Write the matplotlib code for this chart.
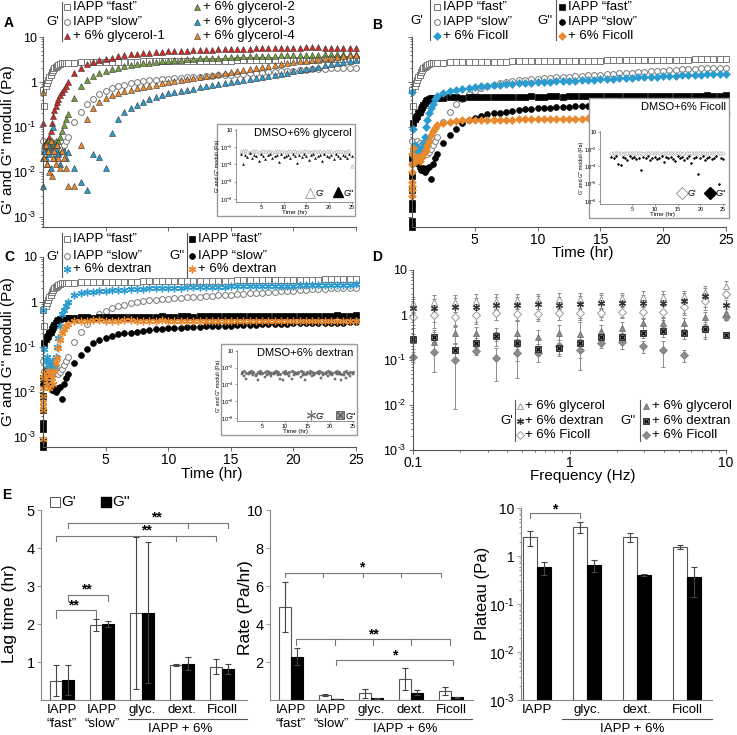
import numpy as np
import matplotlib
matplotlib.use('Agg')
import matplotlib.pyplot as plt
from matplotlib.lines import Line2D
from matplotlib.patches import Rectangle
from matplotlib.ticker import LogLocator, NullFormatter, NullLocator, FixedLocator, FixedFormatter

plt.rcParams['font.family'] = ['Liberation Sans', 'DejaVu Sans']
plt.rcParams['mathtext.fontset'] = 'custom'
plt.rcParams['mathtext.rm'] = 'Liberation Sans'
plt.rcParams['mathtext.it'] = 'Liberation Sans:italic'
plt.rcParams['mathtext.bf'] = 'Liberation Sans:bold'

# ---------------- time course data (Pa) ----------------
hours = [0.03, 0.1, 0.2, 0.3, 0.4, 0.5, 0.6, 0.7, 0.8, 0.9, 1.0, 1.1, 1.2, 1.35, 1.5, 1.65, 1.8, 2.0,
         2.5, 3.0, 3.5, 4.0, 4.5, 5.0, 5.5, 6.0, 6.5, 7.0, 7.5, 8.0, 8.5, 9.0, 9.5, 10.0,
         10.5, 11.0, 11.5, 12.0, 12.5, 13.0, 13.5, 14.0, 14.5, 15.0, 15.5, 16.0, 16.5, 17.0,
         17.5, 18.0, 18.5, 19.0, 19.5, 20.0, 20.5, 21.0, 21.5, 22.0, 22.5, 23.0, 23.5, 24.0, 24.5, 25.0]

fast_g1 = [0.65, 0.3, 0.8, 0.95, 1.1, 1.3, 1.45, 1.65, 1.85, 2.0, 2.15, 2.3, 2.4, 2.5, 2.58, 2.62, 2.65, 2.68,
           2.7, 2.72, 2.74, 2.76, 2.78, 2.8, 2.81, 2.82, 2.83, 2.84, 2.85, 2.86, 2.87, 2.88, 2.89, 2.9,
           2.91, 2.92, 2.93, 2.94, 2.95, 2.96, 2.97, 2.98, 2.99, 3.0, 3.01, 3.02, 3.03, 3.04, 3.05, 3.06,
           3.07, 3.08, 3.09, 3.1, 3.11, 3.12, 3.13, 3.15, 3.17, 3.19, 3.21, 3.23, 3.25, 3.3]
slow_g1 = [0.05, 0.03, 0.04, 0.035, 0.05, 0.04, 0.045, 0.035, 0.04, 0.03, 0.035, 0.03, 0.025, 0.028, 0.032, 0.04, 0.05, 0.06,
           0.13, 0.22, 0.32, 0.42, 0.55, 0.64, 0.72, 0.8, 0.88, 0.95, 1.0, 1.05, 1.08, 1.12, 1.15, 1.18,
           1.2, 1.23, 1.26, 1.3, 1.32, 1.35, 1.38, 1.4, 1.43, 1.46, 1.5, 1.53, 1.56, 1.6, 1.62, 1.66,
           1.7, 1.73, 1.76, 1.8, 1.83, 1.87, 1.9, 1.93, 1.96, 2.0, 2.02, 2.05, 2.08, 2.1]
gly1 = [0.12, 0.04, 0.03, 0.05, 0.04, 0.06, 0.08, 0.12, 0.18, 0.24, 0.3, 0.36, 0.42, 0.52, 0.6, 0.7, 0.8, 1.0,
        1.6, 2.1, 2.5, 2.8, 3.1, 3.3, 3.5, 3.7, 3.9, 4.1, 4.2, 4.4, 4.5, 4.6, 4.7, 4.8,
        4.9, 5.0, 5.0, 5.1, 5.1, 5.2, 5.2, 5.3, 5.3, 5.4, 5.4, 5.5, 5.5, 5.6, 5.6, 5.6,
        5.7, 5.7, 5.8, 5.8, 5.8, 5.9, 5.9, 5.9, 5.8, 5.8, 5.7, 5.7, 5.6, 5.6]
gly2 = [0.02, 0.03, 0.04, 0.03, 0.05, 0.04, 0.03, 0.05, 0.04, 0.045, 0.05, 0.04, 0.05, 0.06, 0.08, 0.11, 0.15, 0.19,
        0.45, 0.8, 1.1, 1.35, 1.6, 1.8, 1.95, 2.1, 2.25, 2.4, 2.5, 2.6, 2.7, 2.8, 2.9, 3.0,
        3.1, 3.15, 3.2, 3.3, 3.35, 3.4, 3.45, 3.5, 3.55, 3.6, 3.65, 3.7, 3.72, 3.75, 3.8, 3.83,
        3.86, 3.9, 3.93, 3.96, 4.0, 4.02, 4.05, 4.08, 4.1, 4.12, 4.15, 4.18, 4.2, 4.25]
gly3 = [0.005, 0.03, 0.02, 0.015, 0.04, 0.025, 0.012, 0.03, 0.1, 0.02, 0.04, 0.03, 0.025, 0.015, 0.03, 0.03, 0.02, 0.028,
        0.012, 0.006, 0.004, 0.025, 0.022, 0.012, 0.075, 0.15, 0.22, 0.27, 0.31, 0.36, 0.42, 0.47, 0.52, 0.56,
        0.6, 0.63, 0.67, 0.71, 0.76, 0.8, 0.85, 0.9, 0.95, 1.0, 1.06, 1.12, 1.18, 1.24, 1.3, 1.37,
        1.45, 1.53, 1.62, 1.72, 1.83, 1.95, 2.07, 2.2, 2.35, 2.5, 2.65, 2.8, 2.95, 3.1]
gly4 = [0.6, 0.02, 0.04, 0.015, 0.03, 0.01, 0.05, 0.008, 0.02, 0.03, 0.015, 0.04, 0.02, 0.012, 0.03, 0.02, 0.012, 0.005,
        0.005, 0.04, 0.15, 0.27, 0.36, 0.45, 0.52, 0.58, 0.63, 0.68, 0.72, 0.78, 0.83, 0.88, 0.93, 0.98,
        1.03, 1.08, 1.14, 1.2, 1.27, 1.34, 1.42, 1.5, 1.58, 1.66, 1.75, 1.85, 1.95, 2.05, 2.15, 2.28,
        2.4, 2.5, 2.62, 2.75, 2.88, 3.0, 3.1, 3.25, 3.4, 3.5, 3.65, 3.8, 3.9, 4.0]
fast_g2 = [0.002, 0.12, 0.15, 0.17, 0.18, 0.2, 0.22, 0.25, 0.28, 0.31, 0.34, 0.37, 0.39, 0.41, 0.43, 0.44, 0.45, 0.45,
           0.45, 0.46, 0.46, 0.45, 0.46, 0.46, 0.47, 0.46, 0.46, 0.47, 0.47, 0.46, 0.47, 0.47, 0.48, 0.47,
           0.47, 0.48, 0.48, 0.47, 0.48, 0.48, 0.49, 0.48, 0.48, 0.49, 0.49, 0.48, 0.49, 0.49, 0.5, 0.49,
           0.49, 0.5, 0.5, 0.49, 0.5, 0.5, 0.5, 0.49, 0.5, 0.5, 0.51, 0.5, 0.5, 0.51]
slow_g2 = [0.015, 0.02, 0.03, 0.025, 0.02, 0.015, 0.012, 0.011, 0.011, 0.012, 0.01, 0.011, 0.012, 0.013, 0.007, 0.015, 0.02, 0.025,
           0.045, 0.065, 0.09, 0.12, 0.14, 0.16, 0.175, 0.19, 0.2, 0.21, 0.22, 0.23, 0.24, 0.25, 0.255, 0.26,
           0.265, 0.27, 0.275, 0.28, 0.285, 0.29, 0.29, 0.295, 0.3, 0.3, 0.305, 0.31, 0.31, 0.315, 0.32, 0.32,
           0.325, 0.33, 0.33, 0.335, 0.335, 0.34, 0.34, 0.345, 0.345, 0.35, 0.35, 0.35, 0.355, 0.36]
fic_g1 = [0.6, 0.09, 0.04, 0.035, 0.03, 0.025, 0.03, 0.028, 0.035, 0.045, 0.06, 0.1, 0.14, 0.2, 0.26, 0.33, 0.42, 0.5,
          0.58, 0.62, 0.66, 0.7, 0.74, 0.78, 0.8, 0.83, 0.86, 0.88, 0.9, 0.92, 0.94, 0.95, 0.97, 0.98,
          1.0, 1.01, 1.03, 1.04, 1.06, 1.07, 1.09, 1.1, 1.12, 1.14, 1.16, 1.18, 1.2, 1.22, 1.24, 1.26,
          1.28, 1.3, 1.32, 1.34, 1.36, 1.38, 1.4, 1.42, 1.44, 1.46, 1.48, 1.5, 1.51, 1.52]
fic_g2 = [0.004, 0.035, 0.02, 0.018, 0.022, 0.02, 0.018, 0.02, 0.022, 0.025, 0.028, 0.032, 0.04, 0.05, 0.065, 0.08, 0.095, 0.11,
          0.12, 0.13, 0.135, 0.14, 0.14, 0.14, 0.142, 0.143, 0.144, 0.145, 0.145, 0.146, 0.147, 0.148, 0.148, 0.149,
          0.15, 0.15, 0.151, 0.152, 0.152, 0.153, 0.154, 0.155, 0.155, 0.156, 0.157, 0.158, 0.16, 0.161, 0.163, 0.165,
          0.167, 0.169, 0.17, 0.172, 0.174, 0.176, 0.178, 0.18, 0.183, 0.186, 0.19, 0.193, 0.197, 0.2]
dex_g1 = [0.65, 0.09, 0.05, 0.06, 0.035, 0.04, 0.03, 0.05, 0.04, 0.035, 0.06, 0.1, 0.16, 0.3, 0.55, 0.65, 0.8, 1.0,
          1.4, 1.55, 1.65, 1.7, 1.75, 1.8, 1.83, 1.86, 1.89, 1.92, 1.95, 1.97, 2.0, 2.02, 2.04, 2.06,
          2.08, 2.1, 2.11, 2.13, 2.14, 2.16, 2.17, 2.19, 2.2, 2.22, 2.23, 2.24, 2.25, 2.26, 2.27, 2.28,
          2.29, 2.3, 2.31, 2.32, 2.33, 2.34, 2.35, 2.36, 2.37, 2.38, 2.4, 2.41, 2.43, 2.45]
dex_g2 = [0.006, 0.025, 0.02, 0.015, 0.03, 0.012, 0.025, 0.02, 0.015, 0.03, 0.045, 0.058, 0.095, 0.145, 0.2, 0.25, 0.29, 0.33,
          0.37, 0.38, 0.385, 0.39, 0.39, 0.385, 0.38, 0.385, 0.39, 0.39, 0.385, 0.38, 0.38, 0.385, 0.39, 0.385,
          0.38, 0.38, 0.385, 0.38, 0.375, 0.38, 0.385, 0.38, 0.38, 0.375, 0.38, 0.38, 0.385, 0.38, 0.375, 0.38,
          0.38, 0.375, 0.38, 0.38, 0.375, 0.37, 0.375, 0.38, 0.375, 0.37, 0.375, 0.37, 0.37, 0.375]

# extra readings stacked at the very start of the run
start_t = [0.0, 0.0, 0.0, 0.0, 0.02, 0.02]
fast_g2_start = [0.0006, 0.0008, 0.0015, 0.004, 0.008, 0.02]
fic_g2_start = [0.003, 0.005, 0.006, 0.01, 0.015, 0.025]
dex_g2_start = [0.0009, 0.004, 0.005, 0.008, 0.012, 0.02]

# ---------------- inset (solvent only) data, log10(Pa) ----------------
inset_t = [0.5, 1.0, 1.5, 2.0, 2.5, 3.0, 3.5, 4.0, 4.5, 5.0, 5.5, 6.0, 6.5, 7.0, 7.5, 8.0, 8.5, 9.0, 9.5, 10.0,
           10.5, 11.0, 11.5, 12.0, 12.5, 13.0, 13.5, 14.0, 14.5, 15.0, 15.5, 16.0, 16.5, 17.0, 17.5, 18.0,
           18.5, 19.0, 19.5, 20.0, 20.5, 21.0, 21.5, 22.0, 22.5, 23.0, 23.5, 24.0, 24.5, 25.0]
gly_solv_g1 = [-2.4, -2.5, -2.3, -2.5, -2.6, -2.4, -2.5, -2.4, -2.6, -2.5, -2.4, -2.5, -2.5, -2.4, -2.6, -2.5, -2.4,
               -2.5, -2.4, -2.5, -2.6, -2.4, -2.5, -2.5, -2.4, -2.6, -2.5, -2.4, -2.5, -2.5, -2.4, -2.6, -2.5,
               -2.4, -2.5, -2.4, -2.6, -2.5, -2.5, -2.4, -2.5, -2.6, -2.4, -2.5, -2.5, -2.4, -2.6, -2.5, -2.4, -4.2]
gly_solv_g2 = [-2.8, -3.9, -2.9, -3.1, -2.7, -3.3, -2.9, -3.0, -3.6, -2.8, -3.0, -3.4, -2.9, -2.8, -3.2, -3.0, -2.9,
               -3.7, -2.8, -3.1, -3.0, -2.9, -3.3, -2.8, -3.0, -3.8, -2.9, -3.1, -2.8, -3.0, -3.5, -2.9, -2.8,
               -3.2, -3.0, -2.9, -3.6, -2.8, -3.0, -3.1, -2.9, -3.4, -2.8, -3.0, -3.2, -2.9, -3.0, -3.3, -2.8, -3.0]
fic_solv_g1 = [-2.5, -2.4, -2.5, -2.5, -2.4, -2.6, -2.5, -2.4, -2.5, -2.4, -2.5, -2.5, -2.4, -2.5, -2.6, -2.4, -2.5,
               -2.5, -2.4, -2.5, -2.4, -2.5, -2.6, -2.5, -2.4, -2.5, -2.5, -2.4, -2.5, -2.4, -2.5, -2.6, -2.5,
               -2.4, -2.5, -2.5, -2.4, -2.5, -2.4, -2.5, -2.5, -2.4, -2.6, -2.5, -2.4, -2.5, -2.5, -2.4, -2.5, -2.4]
fic_solv_g2 = [-2.9, -3.0, -2.8, -3.7, -3.8, -2.9, -3.0, -3.2, -2.8, -3.0, -2.9, -3.1, -3.0, -4.4, -2.9, -3.0, -2.8,
               -3.3, -3.0, -2.9, -3.1, -3.0, -2.8, -3.5, -2.9, -3.0, -2.9, -3.1, -3.4, -2.8, -3.0, -2.9, -3.2,
               -3.0, -2.8, -3.6, -3.0, -2.9, -4.9, -3.0, -2.8, -3.3, -3.0, -2.9, -3.1, -3.0, -2.8, -6.0, -3.0, -3.1]
dex_solv_g1 = [-2.5, -2.4, -2.6, -2.5, -2.4, -2.5, -2.7, -2.5, -2.4, -2.6, -2.5, -2.4, -2.5, -2.6, -2.5, -2.4, -2.5,
               -2.7, -2.5, -2.4, -2.6, -2.5, -2.4, -2.5, -2.6, -2.5, -2.4, -2.5, -2.7, -2.5, -2.4, -2.5, -2.6,
               -2.5, -2.4, -2.5, -2.6, -2.5, -2.4, -2.5, -2.6, -2.5, -2.4, -2.5, -2.7, -2.5, -2.4, -2.6, -2.5, -2.5]
dex_solv_g2 = [-2.7, -3.0, -3.4, -2.8, -2.6, -2.9, -3.0, -3.5, -2.7, -2.8, -3.1, -2.9, -2.7, -3.0, -2.8, -2.6, -2.9,
               -3.3, -3.5, -2.8, -2.7, -3.0, -3.4, -2.9, -2.7, -2.8, -3.1, -2.9, -3.5, -2.7, -2.8, -3.0, -2.9,
               -2.6, -2.8, -3.2, -2.9, -2.7, -3.0, -2.8, -2.9, -3.3, -2.7, -2.8, -3.5, -2.9, -3.2, -2.7, -3.0, -2.8]

# ---------------- frequency sweep data (panel D) ----------------
freq = [0.1, 0.136, 0.185, 0.251, 0.341, 0.464, 0.631, 0.858, 1.17, 1.58, 2.15, 2.93, 3.98, 5.41, 7.36, 10.0]
fs_gly_g1 = [1.82, 1.98, 1.98, 2.08, 2.08, 2.15, 2.15, 2.23, 2.23, 2.23, 2.35, 2.47, 2.55, 2.6, 3.3, 4.3]
fs_dex_g1 = [1.41, 1.41, 1.48, 1.53, 1.67, 1.67, 1.73, 1.67, 1.75, 1.82, 1.82, 1.82, 1.88, 2.08, 2.6, 1.67]
fs_fic_g1 = [0.89, 1.0, 0.89, 1.0, 1.09, 1.03, 1.03, 1.09, 1.09, 1.09, 1.19, 1.19, 1.19, 1.48, 2.08, 2.9]
fs_gly_g1_err = [0.7, 0.8, 0.8, 0.8, 0.8, 0.8, 0.8, 0.8, 0.8, 0.8, 0.8, 0.9, 0.9, 0.9, 1.2, 1.5]
fs_dex_g1_err = [0.9, 0.9, 0.9, 0.9, 0.9, 0.9, 0.9, 0.9, 0.9, 0.9, 0.9, 1.0, 1.0, 1.0, 1.3, 0.5]
fs_fic_g1_err = [0.3, 0.3, 0.3, 0.3, 0.3, 0.3, 0.3, 0.3, 0.3, 0.3, 0.35, 0.35, 0.4, 0.5, 0.6, 0.5]
fs_gly_g2 = [0.28, 0.255, 0.39, 0.39, 0.36, 0.39, 0.32, 0.4, 0.38, 0.45, 0.51, 0.65, 0.65, 0.66, 0.89, 1.09]
fs_dex_g2 = [0.288, 0.33, 0.167, 0.243, 0.34, 0.234, 0.18, 0.188, 0.234, 0.32, 0.32, 0.39, 0.43, 0.39, 0.48, 0.36]
fs_fic_g2 = [0.119, 0.153, 0.1, 0.16, 0.109, 0.146, 0.14, 0.2, 0.17, 0.243, 0.255, 0.2, 0.167, 0.129, 0.5, 0.89]
fs_gly_g2_err = [0.1, 0.2, 0.15, 0.15, 0.15, 0.35, 0.15, 0.2, 0.32, 0.15, 0.2, 0.2, 0.2, 0.2, 0.3, 0.3]
fs_dex_g2_err = [0.05, 0.08, 0.06, 0.06, 0.08, 0.06, 0.05, 0.05, 0.06, 0.06, 0.08, 0.08, 0.1, 0.1, 0.15, 0.05]
fs_fic_g2_err = [0.03, 0.1, 0.092, 0.03, 0.074, 0.05, 0.05, 0.08, 0.06, 0.06, 0.08, 0.06, 0.097, 0.04, 0.2, 0.1]

# ---------------- bar data (panel E) ----------------
lag_g1 = [0.51, 1.97, 2.3, 0.92, 0.88]
lag_g1_err = [0.4, 0.15, 2.0, 0.02, 0.19]
lag_g2 = [0.52, 2.0, 2.3, 0.96, 0.82]
lag_g2_err = [0.39, 0.09, 1.86, 0.16, 0.14]
rate_g1 = [4.9, 0.26, 0.35, 1.09, 0.47]
rate_g1_err = [1.3, 0.03, 0.25, 0.58, 0.2]
rate_g2 = [2.28, 0.05, 0.08, 0.39, 0.14]
rate_g2_err = [0.45, 0.01, 0.03, 0.15, 0.02]
plat_g1 = [2.45, 4.0, 2.45, 1.56]
plat_g1_err = [0.8, 1.0, 0.5, 0.15]
plat_g2 = [0.58, 0.65, 0.4, 0.36]
plat_g2_err = [0.18, 0.18, 0.02, 0.22]
cat5 = ['IAPP\n\u201cfast\u201d', 'IAPP\n\u201cslow\u201d', 'glyc.', 'dext.', 'Ficoll']
cat4 = ['IAPP', 'glyc.', 'dext.', 'Ficoll']

RED, GREEN, BLUE, ORANGE = '#cf2a27', '#74a03c', '#2b9ccf', '#e8892e'
DEC_LABELS = ['10$^{\u20103}$', '10$^{\u20102}$', '10$^{\u20101}$', '1', '10']

W, H = 737, 735
fig = plt.figure(figsize=(W / 100, H / 100), dpi=100)


def box(l, tp, r, b):
    return [l / W, 1 - b / H, (r - l) / W, (b - tp) / H]


def ftext(x, y, s, **kw):
    kw.setdefault('va', 'center')
    fig.text(x / W, 1 - y / H, s, **kw)


def fmark(x, y, **kw):
    fig.add_artist(Line2D([x / W], [1 - y / H], transform=fig.transFigure, ls='none', **kw))


def fline(xs, ys, **kw):
    fig.add_artist(Line2D([x / W for x in xs], [1 - y / H for y in ys], transform=fig.transFigure, **kw))


def clean(ax, color='#555555', size=9):
    for s in ['top', 'right']:
        ax.spines[s].set_visible(False)
    for s in ['left', 'bottom']:
        ax.spines[s].set_color(color)
        ax.spines[s].set_linewidth(0.8)
    ax.tick_params(which='both', color=color, width=0.6, direction='out')
    ax.tick_params(which='major', length=3, labelsize=size, pad=1.5)
    ax.tick_params(which='minor', length=1.6)


def log_y(ax, lo, hi, labels=True):
    ax.set_yscale('log')
    ax.set_ylim(lo, hi)
    ax.yaxis.set_major_locator(FixedLocator([1e-3, 1e-2, 1e-1, 1, 10]))
    if labels:
        ax.yaxis.set_major_formatter(FixedFormatter(DEC_LABELS))
    else:
        ax.yaxis.set_major_formatter(NullFormatter())
    ax.yaxis.set_minor_locator(LogLocator(base=10, subs=[2, 3, 4, 5, 6, 7, 8, 9], numticks=20))
    ax.yaxis.set_minor_formatter(NullFormatter())


def time_axes(rect, xlab, ylab):
    ax = fig.add_axes(box(*rect))
    clean(ax)
    ax.tick_params(axis='x', labelsize=10)
    ax.set_xlim(0, 25)
    ax.set_xticks([5, 10, 15, 20, 25])
    if not xlab:
        ax.set_xticklabels([])
    log_y(ax, 6e-4, 10, ylab)
    return ax


def pts(ax, x, y, **kw):
    ax.plot(x, y, ls='none', clip_on=False, **kw)


sq_open = dict(marker='s', mfc='white', mec='#777777', ms=4.0, mew=0.7)
ci_open = dict(marker='o', mfc='white', mec='#777777', ms=4.2, mew=0.7)
sq_blk = dict(marker='s', mfc='black', mec='black', ms=4.0, mew=0.5)
ci_blk = dict(marker='o', mfc='black', mec='black', ms=4.2, mew=0.5)


def tri(c):
    return dict(marker='^', mfc=c, mec='#333333', mew=0.4, ms=5.0)


def dia(c):
    return dict(marker='D', mfc=c, mec=c, mew=0.4, ms=3.8)


def ast(c):
    return dict(marker=(6, 2, 0), mfc=c, mec=c, mew=1.0, ms=5.5)


def inset(ax_rect, frame, xlim, g1, g2, s1, s2, title, title_xy):
    l, tp, r, b = frame
    fig.add_artist(Rectangle((l / W, 1 - b / H), (r - l) / W, (b - tp) / H, transform=fig.transFigure,
                             facecolor='white', edgecolor='#9a9a9a', lw=1.0, zorder=3))
    ax = fig.add_axes(box(*ax_rect), zorder=5)
    ax.patch.set_alpha(0)
    for s in ['top', 'right']:
        ax.spines[s].set_visible(False)
    for s in ['left', 'bottom']:
        ax.spines[s].set_color('#666666')
        ax.spines[s].set_linewidth(0.5)
    ax.set_xlim(*xlim)
    ax.set_xticks([5, 10, 15, 20, 25])
    ax.set_yscale('log')
    ax.set_ylim(10 ** -8.35, 10 ** 0.1)
    ax.yaxis.set_major_locator(FixedLocator([1e-8, 1e-6, 1e-4, 1e-2, 1]))
    ax.yaxis.set_major_formatter(FixedFormatter(['10$^{-8}$', '10$^{-6}$', '10$^{-4}$', '10$^{-2}$', '10']))
    ax.yaxis.set_minor_locator(NullLocator())
    ax.tick_params(labelsize=4, length=1.5, width=0.4, pad=0.8, color='#666666')
    ax.set_xlabel('Time (hr)', fontsize=4.5, labelpad=0)
    ax.set_ylabel("G' and G'' moduli (Pa)", fontsize=3.8, labelpad=0.5)
    ax.plot(inset_t, 10 ** np.array(g1), ls='none', **s1)
    ax.plot(inset_t, 10 ** np.array(g2), ls='none', **s2)
    ftext(title_xy[0], title_xy[1], title, ha='right', fontsize=8, zorder=6)
    return ax


# ================= Panel A =================
axA = time_axes((43, 37, 356, 227), False, True)
pts(axA, hours, fast_g1, **sq_open)
pts(axA, hours, slow_g1, **ci_open)
pts(axA, hours, gly1, **tri(RED))
pts(axA, hours, gly2, **tri(GREEN))
pts(axA, hours, gly3, **tri(BLUE))
pts(axA, hours, gly4, **tri(ORANGE))
ftext(8, 140, "G' and G'' moduli (Pa)", rotation=90, ha='center', fontsize=11)
inset((236, 129, 353, 202), (217, 124, 355, 216), (-0.5, 25.3), gly_solv_g1, gly_solv_g2,
      dict(marker='^', mfc='white', mec='#aaaaaa', ms=2.4, mew=0.4),
      dict(marker='^', mfc='black', mec='black', ms=1.6, mew=0.2),
      'DMSO+6% glycerol', (352, 133))
fmark(310, 193, marker='^', mfc='white', mec='#999999', ms=7, mew=0.6, zorder=6)
ftext(315, 194, "G'", fontsize=6.5, zorder=6)
fmark(338, 192, marker='^', mfc='black', mec='black', ms=7, zorder=6)
ftext(343, 194, "G''", fontsize=6.5, zorder=6)

# legend A
ftext(53, 22, "G'", ha='center', fontsize=9.5)
fline([62, 62], [2, 41], color='#555555', lw=0.8)
rows = [7, 22, 36]
for y, st, lab in zip(rows, [sq_open, ci_open, tri(RED)], ['IAPP \u201cfast\u201d', 'IAPP \u201cslow\u201d', '+ 6% glycerol-1']):
    fmark(67, y, **st)
    ftext(73, y, lab, fontsize=9.5)
for y, c, lab in zip(rows, [GREEN, BLUE, ORANGE], ['+ 6% glycerol-2', '+ 6% glycerol-3', '+ 6% glycerol-4']):
    fmark(197, y, **tri(c))
    ftext(203, y, lab, fontsize=9.5)

# ================= Panel B =================
axB = time_axes((412, 37, 726, 227), True, False)
pts(axB, hours, fast_g1, **sq_open)
pts(axB, hours, slow_g1, **ci_open)
pts(axB, hours, fast_g2, **sq_blk)
pts(axB, start_t, fast_g2_start, **sq_blk)
pts(axB, hours, slow_g2, **ci_blk)
pts(axB, hours, fic_g1, **dia(BLUE))
pts(axB, hours, fic_g2, **dia(ORANGE))
pts(axB, start_t, fic_g2_start, **dia(ORANGE))
ftext(583, 253, 'Time (hr)', ha='center', fontsize=11)
inset((600, 131, 725, 204), (589, 98, 729, 218), (-2.0, 25.4), fic_solv_g1, fic_solv_g2,
      dict(marker='D', mfc='white', mec='#aaaaaa', ms=2.0, mew=0.4),
      dict(marker='D', mfc='black', mec='black', ms=1.4, mew=0.2),
      'DMSO+6% Ficoll', (726, 107))
fmark(682, 193, marker='D', mfc='white', mec='#888888', ms=6, mew=0.6, zorder=6)
ftext(687, 194, "G'", fontsize=6.5, zorder=6)
fmark(710, 193, marker='D', mfc='black', mec='black', ms=6, zorder=6)
ftext(715, 194, "G''", fontsize=6.5, zorder=6)

ftext(417, 21, "G'", ha='center', fontsize=9.5)
fline([430, 430], [0, 40], color='#555555', lw=0.8)
for y, st, lab in zip(rows, [sq_open, ci_open, dia(BLUE)], ['IAPP \u201cfast\u201d', 'IAPP \u201cslow\u201d', '+ 6% Ficoll']):
    fmark(437, y, **st)
    ftext(443, y, lab, fontsize=9.5)
ftext(545, 21, "G''", ha='center', fontsize=9.5)
fline([556, 556], [0, 40], color='#555555', lw=0.8)
for y, st, lab in zip(rows, [sq_blk, ci_blk, dia(ORANGE)], ['IAPP \u201cfast\u201d', 'IAPP \u201cslow\u201d', '+ 6% Ficoll']):
    fmark(562, y, **st)
    ftext(568, y, lab, fontsize=9.5)

# ================= Panel C =================
axC = time_axes((43, 257, 356, 447), True, True)
pts(axC, hours, fast_g1, **sq_open)
pts(axC, hours, slow_g1, **ci_open)
pts(axC, hours, fast_g2, **sq_blk)
pts(axC, start_t, fast_g2_start, **sq_blk)
pts(axC, hours, slow_g2, **ci_blk)
pts(axC, hours, dex_g1, **ast(BLUE))
pts(axC, hours, dex_g2, **ast(ORANGE))
pts(axC, start_t, dex_g2_start, **ast(ORANGE))
ftext(8, 352, "G' and G'' moduli (Pa)", rotation=90, ha='center', fontsize=11)
ftext(212, 474, 'Time (hr)', ha='center', fontsize=11)
inset((237, 350, 354, 421), (221, 344, 357, 435), (-0.6, 25.3), dex_solv_g1, dex_solv_g2,
      dict(marker=(6, 2, 0), mfc='#777777', mec='#777777', ms=2.4, mew=0.4),
      dict(marker='s', mfc='#888888', mec='#444444', ms=1.8, mew=0.3),
      'DMSO+6% dextran', (353, 353))
fmark(311, 415, marker=(6, 2, 0), mec='#777777', ms=7, mew=0.8, zorder=6)
ftext(316, 416, "G'", fontsize=6.5, zorder=6)
fmark(340, 415, marker='s', mfc='#999999', mec='#555555', ms=6, mew=0.6, zorder=6)
fmark(340, 415, marker='x', mec='#444444', ms=5, mew=0.6, zorder=7)
ftext(345, 416, "G''", fontsize=6.5, zorder=6)

rowsC = [239, 256, 269]
ftext(53, 257, "G'", ha='center', fontsize=9.5)
fline([62, 62], [233, 277], color='#555555', lw=0.8)
for y, st, lab in zip(rowsC, [sq_open, ci_open, ast(BLUE)], ['IAPP \u201cfast\u201d', 'IAPP \u201cslow\u201d', '+ 6% dextran']):
    fmark(67, y, **st)
    ftext(73, y, lab, fontsize=9.5)
ftext(177, 256, "G''", ha='center', fontsize=9.5)
fline([187, 187], [233, 277], color='#555555', lw=0.8)
for y, st, lab in zip(rowsC, [sq_blk, ci_blk, ast(ORANGE)], ['IAPP \u201cfast\u201d', 'IAPP \u201cslow\u201d', '+ 6% dextran']):
    fmark(192, y, **st)
    ftext(198, y, lab, fontsize=9.5)

# ================= Panel D =================
axD = fig.add_axes(box(413, 270, 726, 450))
clean(axD)
axD.tick_params(axis='x', labelsize=10)
axD.set_xscale('log')
axD.set_xlim(0.1, 10)
axD.xaxis.set_major_locator(FixedLocator([0.1, 1, 10]))
axD.xaxis.set_major_formatter(FixedFormatter(['0.1', '1', '10']))
axD.xaxis.set_minor_locator(LogLocator(base=10, subs=[2, 3, 4, 5, 6, 7, 8, 9], numticks=20))
axD.xaxis.set_minor_formatter(NullFormatter())
log_y(axD, 1e-3, 10, True)
ekw = dict(fmt='none', ecolor='#8c8c8c', elinewidth=0.7, capsize=1.5, capthick=0.7, clip_on=False)
for v, e in [(fs_gly_g2, fs_gly_g2_err), (fs_dex_g2, fs_dex_g2_err), (fs_fic_g2, fs_fic_g2_err),
             (fs_gly_g1, fs_gly_g1_err), (fs_dex_g1, fs_dex_g1_err), (fs_fic_g1, fs_fic_g1_err)]:
    axD.errorbar(freq, v, yerr=e, **ekw)
d_gly1 = dict(marker='^', mfc='white', mec='#999999', ms=4.5, mew=0.7)
d_dex1 = dict(marker=(6, 2, 0), mfc='#333333', mec='#333333', ms=5, mew=0.9)
d_fic1 = dict(marker='D', mfc='white', mec='#999999', ms=3.6, mew=0.7)
d_gly2 = dict(marker='^', mfc='#8c8c8c', mec='#666666', ms=4.5, mew=0.5)
d_dex2 = dict(marker='s', mfc='#777777', mec='#222222', ms=4.2, mew=0.6)
d_dex2x = dict(marker='x', mec='black', ms=3.5, mew=0.8)
d_fic2 = dict(marker='D', mfc='#8c8c8c', mec='#777777', ms=3.6, mew=0.5)
pts(axD, freq, fs_fic_g2, **d_fic2)
pts(axD, freq, fs_gly_g2, **d_gly2)
pts(axD, freq, fs_dex_g2, **d_dex2)
pts(axD, freq, fs_dex_g2, **d_dex2x)
pts(axD, freq, fs_fic_g1, **d_fic1)
pts(axD, freq, fs_gly_g1, **d_gly1)
pts(axD, freq, fs_dex_g1, **d_dex1)
ftext(583, 476, 'Frequency (Hz)', ha='center', fontsize=11)

rowsD = [406, 421, 435]
ftext(507, 421, "G'", ha='center', fontsize=9.5)
fline([515, 515], [400, 441], color='#555555', lw=0.8)
for y, st, lab in zip(rowsD, [d_gly1, d_dex1, d_fic1], ['+ 6% glycerol', '+ 6% dextran', '+ 6% Ficoll']):
    fmark(520, y, **st)
    ftext(525, y, lab, fontsize=9.5)
ftext(628, 421, "G''", ha='center', fontsize=9.5)
fline([640, 640], [400, 441], color='#555555', lw=0.8)
for y, st, lab in zip(rowsD, [d_gly2, d_dex2, d_fic2], ['+ 6% glycerol', '+ 6% dextran', '+ 6% Ficoll']):
    fmark(646, y, **st)
    if st is d_dex2:
        fmark(646, y, **d_dex2x)
    ftext(652, y, lab, fontsize=9.5)

# ================= Panel E =================
err_kw = dict(ecolor='#444444', elinewidth=0.8, capsize=2, capthick=0.8)


def bar_panel(ax, g1, e1, g2, e2, w, cats):
    x = np.arange(len(g1))
    ax.bar(x - w / 2, g1, w, color='white', edgecolor='#555555', lw=0.8, yerr=e1, error_kw=err_kw, zorder=2)
    ax.bar(x + w / 2, g2, w, color='black', edgecolor='black', lw=0.8, yerr=e2, error_kw=err_kw, zorder=2)
    ax.set_xticks(x)
    ax.set_xticklabels(cats, fontsize=9.5, linespacing=1.15)
    ax.tick_params(axis='x', length=0, pad=3)


def group_line(ax, x0, x1, xc):
    tr = ax.get_xaxis_transform()
    ax.plot([x0, x1], [-0.1, -0.1], transform=tr, color='#555555', lw=0.8, clip_on=False)
    ax.text(xc, -0.153, 'IAPP + 6%', transform=tr, ha='center', va='center', fontsize=9.5)


def bracket(ax, x0, x1, y, drop, ticks, star, sx, sy):
    ax.plot([x0, x0, x1, x1], [y - drop, y, y, y - drop], color='#777777', lw=0.8, clip_on=False)
    for xt in ticks:
        ax.plot([xt, xt], [y, y - drop], color='#777777', lw=0.8, clip_on=False)
    ax.text(sx, sy, star, ha='center', va='center', fontsize=10, fontweight='bold')


# lag time
axL = fig.add_axes(box(41, 510, 247, 700))
clean(axL, '#888888', 10.5)
bar_panel(axL, lag_g1, lag_g1_err, lag_g2, lag_g2_err, 0.3, cat5)
axL.set_xlim(-0.52, 4.62)
axL.set_ylim(0, 5)
axL.set_yticks([1, 2, 3, 4, 5])
group_line(axL, 1.65, 4.62, 2.95)
bracket(axL, -0.15, 0.85, 2.37, 0.2, [], '**', 0.3, 2.5)
bracket(axL, 0.15, 1.15, 2.76, 0.15, [], '**', 0.62, 2.9)
bracket(axL, -0.15, 3.85, 4.32, 0.13, [2.85], '**', 2.12, 4.46)
bracket(axL, 0.15, 4.15, 4.65, 0.13, [3.15], '**', 2.37, 4.8)
ftext(10, 614, 'Lag time (hr)', rotation=90, ha='center', fontsize=12.5)

# rate
axR = fig.add_axes(box(270, 510, 473, 700))
clean(axR, '#888888', 10.5)
bar_panel(axR, rate_g1, rate_g1_err, rate_g2, rate_g2_err, 0.3, cat5)
axR.set_xlim(-0.52, 4.55)
axR.set_ylim(0, 10)
axR.set_yticks([2, 4, 6, 8, 10])
group_line(axR, 1.6, 4.52, 2.85)
bracket(axR, -0.15, 3.75, 6.7, 0.25, [0.8, 1.8, 2.75], '*', 1.78, 7.0)
bracket(axR, 0.12, 3.98, 3.19, 0.3, [1.1, 2.06, 3.0], '**', 2.06, 3.47)
bracket(axR, 1.14, 4.06, 2.1, 0.25, [], '*', 2.6, 2.37)
ftext(246, 608, 'Rate (Pa/hr)', rotation=90, ha='center', fontsize=12.5)

# plateau
axP = fig.add_axes(box(521, 508, 712, 700))
clean(axP, '#888888', 10)
axP.set_yscale('log')
bar_panel(axP, plat_g1, plat_g1_err, plat_g2, plat_g2_err, 0.28, cat4)
axP.set_xlim(-0.32, 3.5)
log_y(axP, 1e-3, 10, True)
group_line(axP, 0.5, 3.5, 1.9)
axP.plot([-0.14, -0.14, 0.86, 0.86], [6.1, 7.9, 7.9, 6.1], color='#777777', lw=0.8, clip_on=False)
axP.text(0.36, 9.3, '*', ha='center', va='center', fontsize=10, fontweight='bold')
ftext(482, 593, 'Plateau (Pa)', rotation=90, ha='center', fontsize=12)

# legend E
fmark(55, 502, marker='s', mfc='white', mec='#555555', ms=7, mew=0.7)
ftext(61, 502, "G'", fontsize=11)
fmark(106, 502, marker='s', mfc='black', mec='black', ms=7)
ftext(112, 502, "G''", fontsize=11)

# panel letters
for lab, x, y in [('A', 9, 23), ('B', 377, 25), ('C', 9, 257), ('D', 377, 257), ('E', 7, 495)]:
    ftext(x, y, lab, fontsize=10, fontweight='bold', ha='center')

fig.savefig('out.png', dpi=100)
